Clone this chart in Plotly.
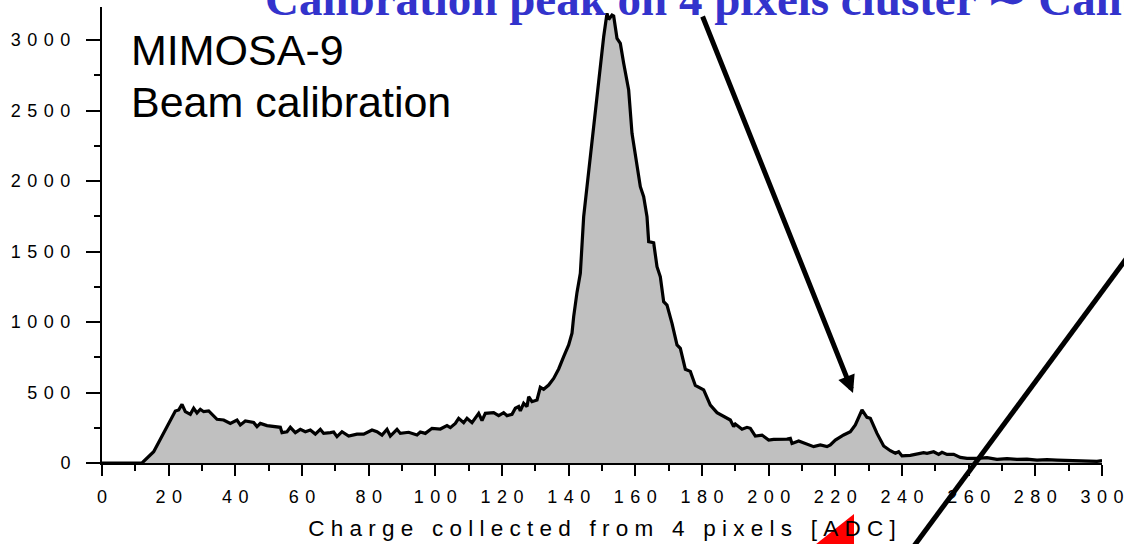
import plotly.graph_objects as go

# ADC charge bins and counts for the 4-pixel cluster charge spectrum
adc = [0, 12, 15.5, 18.5, 20.5, 22, 23, 24, 25, 26.5, 27.5, 28.5, 29.5, 30.5, 32, 34.5, 36.5,
       38.5, 40.5, 41.5, 43, 45.5, 46.5, 47.5, 49.5, 53.5, 54, 55.5, 56.5, 58, 59.5, 61, 62.5,
       64, 65.5, 66.5, 68.5, 69.5, 70.5, 72, 74, 76.5, 78.5, 81, 82.5, 84, 85.5, 86.5, 88.5,
       89.5, 92, 94.5, 95.5, 97, 99, 101.5, 103.5, 104.5, 106, 107, 108.5, 109.5, 111, 113,
       114, 115, 117.5, 119, 120.5, 121.5, 123, 124, 125, 125.5, 126.5, 127.5, 128, 129,
       130.5, 131.5, 132.5, 134, 135.5, 137, 138.5, 140, 141, 141.5, 142.5, 143.5, 144.5,
       145.5, 146.5, 147.5, 148.5, 149.5, 150.5, 151.5, 152, 153, 153.5, 154.5, 155.5, 156.5,
       158, 159, 160, 161.5, 162.5, 163.5, 164, 165.5, 166.5, 167.5, 168.5, 169.5, 171, 172.5,
       173.5, 175, 176.5, 178, 180.5, 182.5, 184.5, 186.5, 188.5, 189.5, 190, 192, 193.5,
       194.5, 196, 198, 200, 201.5, 203.5, 205.5, 206.5, 207, 209, 211.5, 213.5, 215.5, 217.5,
       218.5, 220, 222.5, 224.5, 226, 228, 229.5, 230.5, 232.5, 234.5, 236.5, 238, 239, 240,
       242.5, 244, 246.5, 247.5, 249.5, 251, 252, 253.5, 255.5, 257.5, 259.5, 262.5, 265.5,
       268.5, 271.5, 274.5, 277.5, 280.5, 283.5, 286.5, 289.5, 292.5, 295.5, 298.5, 300]
counts = [0, 0, 80, 210, 305, 369, 376, 416, 364, 345, 388, 355, 381, 364, 369, 310, 305,
          281, 305, 270, 298, 287, 258, 281, 265, 253, 215, 222, 253, 215, 239, 222, 234,
          205, 239, 210, 215, 220, 187, 222, 191, 205, 205, 234, 222, 198, 239, 191, 239,
          210, 218, 199, 220, 210, 246, 241, 265, 251, 281, 317, 286, 317, 286, 352,
          300, 352, 357, 336, 357, 336, 345, 388, 400, 369, 423, 400, 470, 435,
          447, 537, 523, 553, 600, 667, 754, 837, 920, 1038, 1210, 1345, 1747,
          1960, 2149, 2385, 2598, 2835, 3023, 3189, 3146, 3177, 3170, 3012, 2976, 2835,
          2645, 2338, 2196, 1960, 1889, 1747, 1570, 1562, 1392, 1321, 1144, 1120, 991, 837,
          813, 665, 650, 550, 518, 411, 357, 333, 305, 258, 276, 239, 253,
          246, 191, 198, 163, 168, 168, 170, 175, 139, 156, 132, 116, 128, 116,
          128, 163, 199, 222, 270, 376, 324, 317, 210, 121, 87, 69, 80, 50,
          54, 61, 73, 69, 80, 61, 76, 61, 61, 40, 33, 33, 38,
          26, 31, 26, 28, 21, 24, 21, 19, 19, 17, 12, 17]

x_tick_vals = list(range(0, 301, 20))
x_tick_labels = [str(v) for v in x_tick_vals]
y_tick_vals = [0, 500, 1000, 1500, 2000, 2500, 3000]
y_tick_labels = [str(v) for v in y_tick_vals]

x_title = "Charge collected from 4 pixels [ADC]"
panel_title = "MIMOSA-9"
panel_subtitle = "Beam calibration"
banner_text = "Calibration peak on 4 pixels cluster \u223c Calibration peak"

# calibration peak the arrow points at, and where the arrow starts
peak_arrow_tip = (225.3, 496)
peak_arrow_tail = (180, 3177)

GAP = "\u00a0\u200a"


def spaced(s, gap=GAP):
    return gap.join(s)


def spaced_words(s):
    return "\u00a0\u00a0\u00a0".join("\u00a0".join(w) for w in s.split(" "))


fig = go.Figure()
fig.add_trace(go.Scatter(
    x=adc, y=counts, mode="lines", fill="tozeroy",
    fillcolor="#c0c0c0", line=dict(color="black", width=3.2),
    hoverinfo="skip",
))

tick_font = dict(family="Liberation Sans, Arial", size=18, color="black")

fig.update_xaxes(
    range=[0, 300], tickmode="array", tickvals=x_tick_vals,
    ticktext=[spaced(t) for t in x_tick_labels],
    ticks="outside", ticklen=11, tickwidth=2, tickcolor="black",
    minor=dict(dtick=10, tick0=0, ticks="outside", ticklen=6, tickwidth=2, tickcolor="black"),
    showline=True, linewidth=2, linecolor="black",
    showgrid=False, zeroline=False, tickfont=tick_font, ticklabelstandoff=5,
    automargin=False,
    title=dict(text=spaced_words(x_title),
               font=dict(family="Liberation Sans, Arial", size=22.5, color="black"),
               standoff=15),
)
fig.update_yaxes(
    range=[0, 3234], tickmode="array", tickvals=y_tick_vals,
    ticktext=[spaced(t) for t in y_tick_labels],
    ticks="outside", ticklen=14, tickwidth=2, tickcolor="black",
    minor=dict(dtick=250, tick0=0, ticks="outside", ticklen=6, tickwidth=2, tickcolor="black"),
    showline=True, linewidth=2, linecolor="black",
    showgrid=False, zeroline=False, tickfont=tick_font, ticklabelstandoff=12,
    automargin=False,
)

panel_font = dict(family="Liberation Sans, Arial", size=43, color="black")
annotations = [
    dict(text=panel_title, xref="paper", yref="paper", x=0.027, y=0.9627,
         xanchor="left", yanchor="top", align="left", showarrow=False, font=panel_font),
    dict(text=panel_subtitle, xref="paper", yref="paper", x=0.027, y=0.8487,
         xanchor="left", yanchor="top", align="left", showarrow=False, font=panel_font),
    dict(text="<b>" + banner_text + "</b>", xref="paper", yref="paper", x=0.161, y=1.0800,
         xanchor="left", yanchor="top", align="left", showarrow=False,
         font=dict(family="Liberation Serif, Times New Roman", size=47, color="#3333cc")),
    dict(x=peak_arrow_tip[0], y=peak_arrow_tip[1], xref="x", yref="y",
         ax=peak_arrow_tail[0], ay=peak_arrow_tail[1], axref="x", ayref="y",
         showarrow=True, arrowhead=2, arrowsize=0.7, arrowwidth=5, arrowcolor="black",
         standoff=0, text=""),
]

shapes = [
    # long diagonal pointer crossing the right side
    dict(type="line", xref="paper", yref="paper", x0=0.778, y0=-0.2829, x1=1.098, y1=0.6667,
         line=dict(color="black", width=5)),
    # red pointer tip at the bottom edge
    dict(type="path", xref="paper", yref="paper",
         path="M 0.694 -0.2127 L 0.752 -0.1118 L 0.752 -0.2127 Z",
         fillcolor="#ff0000", line=dict(width=0)),
]

fig.update_layout(
    width=1124, height=544, margin=dict(l=102, r=22, t=7, b=81),
    plot_bgcolor="white", paper_bgcolor="white", showlegend=False,
    annotations=annotations, shapes=shapes,
)

fig.write_html("out.html")
